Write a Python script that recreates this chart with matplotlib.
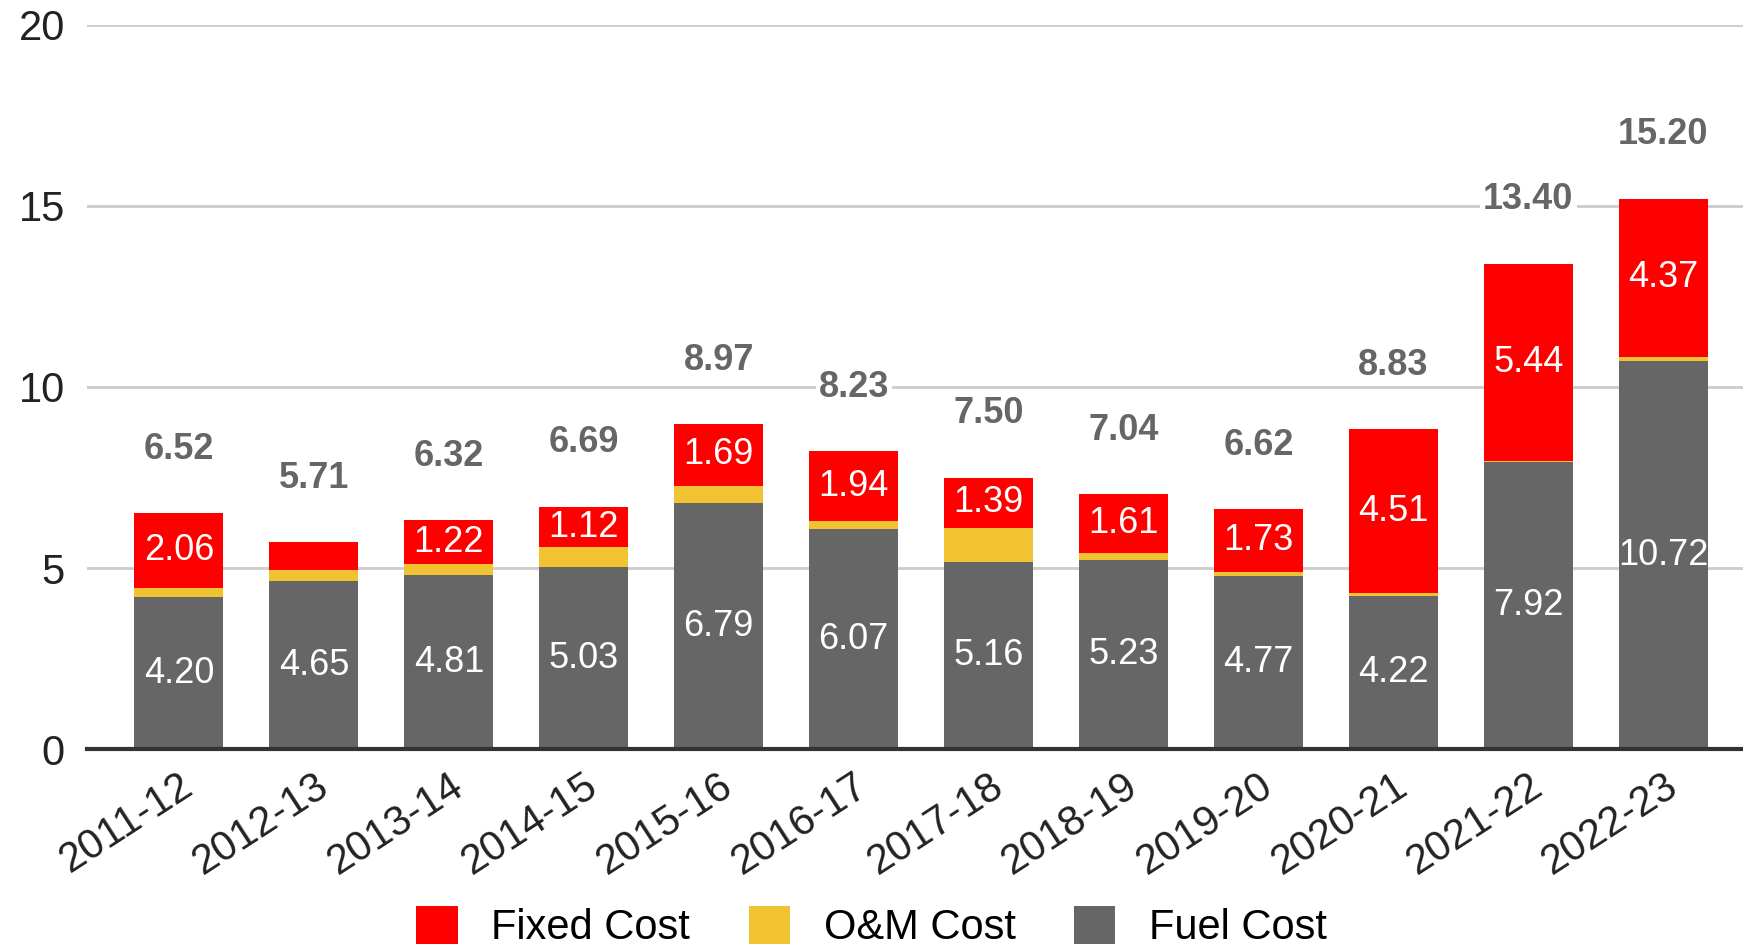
import matplotlib
matplotlib.use('Agg')
import matplotlib.pyplot as plt
import numpy as np

years = ['2011-12', '2012-13', '2013-14', '2014-15', '2015-16', '2016-17',
         '2017-18', '2018-19', '2019-20', '2020-21', '2021-22', '2022-23']
fuel_cost = [4.20, 4.65, 4.81, 5.03, 6.79, 6.07, 5.16, 5.23, 4.77, 4.22, 7.92, 10.72]
om_cost = [0.26, 0.30, 0.29, 0.54, 0.49, 0.22, 0.95, 0.20, 0.12, 0.10, 0.04, 0.11]
fixed_cost = [2.06, 0.76, 1.22, 1.12, 1.69, 1.94, 1.39, 1.61, 1.73, 4.51, 5.44, 4.37]
fixed_labels = ['2.06', '', '1.22', '1.12', '1.69', '1.94', '1.39', '1.61', '1.73', '4.51', '5.44', '4.37']
totals = [6.52, 5.71, 6.32, 6.69, 8.97, 8.23, 7.50, 7.04, 6.62, 8.83, 13.40, 15.20]

RED = '#ff0000'
YELLOW = '#f1c232'
GRAY = '#666666'

plt.rcParams['font.family'] = ['Liberation Sans', 'DejaVu Sans']

fig = plt.figure(figsize=(17.43, 9.52), dpi=100)
ax = fig.add_axes([0.05, 0.213, 0.95, 0.761])

x = np.arange(len(years))
w = 0.66
fuel = np.array(fuel_cost)
om = np.array(om_cost)
fixed = np.array(fixed_cost)

ax.bar(x, fixed, w, bottom=fuel + om, color=RED, label='Fixed Cost', zorder=3)
ax.bar(x, om, w, bottom=fuel, color=YELLOW, label='O&M Cost', zorder=3)
ax.bar(x, fuel, w, color=GRAY, label='Fuel Cost', zorder=3)

for i in range(len(years)):
    ax.text(x[i], fuel[i] / 2, f'{fuel_cost[i]:.2f}', ha='center', va='center',
            color='white', fontsize=26, zorder=4)
    if fixed_labels[i]:
        ax.text(x[i], fuel[i] + om[i] + fixed[i] / 2, fixed_labels[i], ha='center',
                va='center', color='white', fontsize=26, zorder=4)
    ax.annotate(f'{totals[i]:.2f}', (x[i], fuel[i] + om[i] + fixed[i]),
                xytext=(0, 46), textcoords='offset points', ha='center', va='center',
                color='#666666', fontsize=26, fontweight='bold',
                bbox=dict(facecolor='white', edgecolor='none', pad=2), zorder=5)

ax.set_xlim(-0.68, 11.59)
ax.set_ylim(0, 20)
ax.set_yticks([0, 5, 10, 15, 20])
ax.yaxis.grid(True, color='#cccccc', linewidth=2, zorder=0)
ax.tick_params(axis='y', length=0, pad=16, labelsize=30, labelcolor='#222222')
ax.tick_params(axis='x', length=0, pad=12, labelsize=30, labelcolor='#222222')
ax.set_xticks(x)
ax.set_xticklabels(years, rotation=33, ha='right', rotation_mode='anchor')
for s in ['left', 'right', 'top']:
    ax.spines[s].set_visible(False)
ax.spines['bottom'].set_color('#333333')
ax.spines['bottom'].set_linewidth(3)
ax.spines['bottom'].set_zorder(6)

fig.legend(loc='center', bbox_to_anchor=(0.5, 0.026), ncol=3, frameon=False,
           prop={'size': 30}, handlelength=1.0, handleheight=1.0,
           columnspacing=1.4, handletextpad=0.8)

fig.savefig('out.png', dpi=100)
